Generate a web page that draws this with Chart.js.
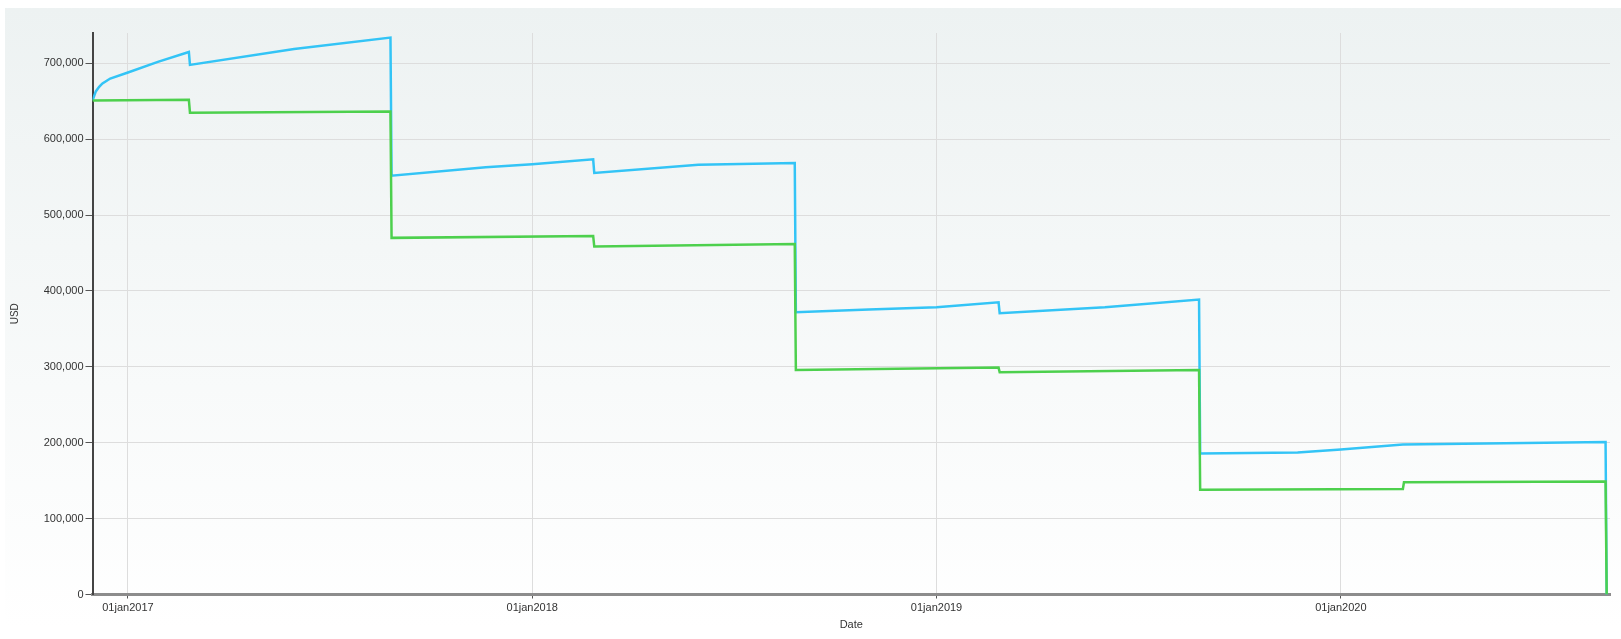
<!DOCTYPE html>
<html>
<head>
<meta charset="utf-8">
<script src="https://cdn.jsdelivr.net/npm/chart.js@4/dist/chart.umd.min.js"></script>
<style>
  body { margin: 0; background: #fff; }
  canvas { display: block; }
</style>
</head>
<body>
<canvas id="usdChart" width="1621" height="639"></canvas>
<script>
// Serie azul
const blueDates = ['2016-11-30', '2016-12-03', '2016-12-06', '2016-12-09', '2016-12-16', '2017-01-01', '2017-01-28',
    '2017-02-25', '2017-02-26', '2017-05-31', '2017-08-26', '2017-08-27', '2017-11-20', '2018-01-01', '2018-02-25',
    '2018-02-26', '2018-05-31', '2018-08-26', '2018-08-27', '2018-11-01', '2019-01-01', '2019-02-26', '2019-02-27',
    '2019-06-02', '2019-08-26', '2019-08-27', '2019-11-23', '2020-01-01', '2020-02-26', '2020-08-27', '2020-08-28'];
const blueValues = [651000, 663000, 669000, 673500, 680000, 688000, 702000,
    715000, 698000, 719000, 734000, 552000, 563000, 567000, 573500,
    555500, 566500, 568700, 372000, 375500, 378700, 385000, 370800,
    378700, 388800, 185800, 187000, 191000, 197600, 201000, 0];

// Serie verde
const greenDates = ['2016-11-30', '2017-02-25', '2017-02-26', '2017-08-26', '2017-08-27', '2018-02-25', '2018-02-26',
    '2018-08-26', '2018-08-27', '2019-02-26', '2019-02-27', '2019-08-26', '2019-08-27', '2020-02-26', '2020-02-27',
    '2020-08-27', '2020-08-28'];
const greenValues = [651000, 652000, 635000, 636500, 470000, 472500, 458500,
    462000, 296000, 299000, 293000, 296000, 138000, 139000, 148000,
    148800, 0];

// Marcas de los ejes
const yearTicks = [2017, 2018, 2019, 2020];
const yTicks = [0, 100000, 200000, 300000, 400000, 500000, 600000, 700000];
const xRange = ['2016-11-30', '2020-08-31'];
const yMax = 740000;

function toPoints(dates, values) {
    return dates.map(function(d, i) {
        return { x: Date.parse(d), y: values[i] };
    });
}

// Fondo con degradado del panel
const panelBackground = {
    id: 'panelBackground',
    beforeDraw: function(chart) {
        const ctx = chart.ctx;
        ctx.save();
        ctx.fillStyle = '#ffffff';
        ctx.fillRect(0, 0, chart.width, chart.height);
        const grad = ctx.createLinearGradient(0, 8, 0, 628);
        grad.addColorStop(0, '#edf2f2');
        grad.addColorStop(1, '#ffffff');
        ctx.fillStyle = grad;
        ctx.fillRect(5, 8, chart.width - 5, 620);
        ctx.restore();
    }
};

const ctx = document.getElementById('usdChart').getContext('2d');
const usdChart = new Chart(ctx, {
    type: 'line',
    data: {
        datasets: [{
            label: 'Green',
            data: toPoints(greenDates, greenValues),
            borderColor: '#4dd04d',
            borderWidth: 2.5,
            pointRadius: 0,
            tension: 0,
            fill: false
        }, {
            label: 'Blue',
            data: toPoints(blueDates, blueValues),
            borderColor: '#33c4f6',
            borderWidth: 2.5,
            pointRadius: 0,
            tension: 0,
            fill: false
        }]
    },
    options: {
        responsive: false,
        animation: false,
        devicePixelRatio: 1,
        layout: {
            padding: { left: 0, right: 11, top: 33, bottom: 0 }
        },
        plugins: {
            legend: { display: false },
            tooltip: { enabled: false }
        },
        scales: {
            x: {
                type: 'linear',
                min: Date.parse(xRange[0]),
                max: Date.parse(xRange[1]),
                afterBuildTicks: function(scale) {
                    scale.ticks = yearTicks.map(function(y) {
                        return { value: Date.UTC(y, 0, 1) };
                    });
                },
                afterFit: function(scale) {
                    scale.height = 44.5;
                },
                ticks: {
                    autoSkip: false,
                    maxRotation: 0,
                    padding: 3,
                    color: '#333',
                    font: { family: 'Liberation Sans', size: 11 },
                    callback: function(value) {
                        return '01jan' + new Date(value).getUTCFullYear();
                    }
                },
                grid: {
                    color: '#dddddd',
                    lineWidth: 1,
                    tickLength: 4,
                    tickColor: '#555'
                },
                border: { color: '#8c8c8c', width: 3 },
                title: {
                    display: true,
                    text: 'Date',
                    color: '#333',
                    font: { family: 'Liberation Sans', size: 11 },
                    padding: { top: 0, bottom: 7 }
                }
            },
            y: {
                min: 0,
                max: yMax,
                afterBuildTicks: function(scale) {
                    scale.ticks = yTicks.map(function(v) {
                        return { value: v };
                    });
                },
                afterFit: function(scale) {
                    scale.width = 92.5;
                },
                ticks: {
                    padding: 2,
                    color: '#333',
                    font: { family: 'Liberation Sans', size: 11 },
                    callback: function(value) {
                        return value.toLocaleString('en-US');
                    }
                },
                grid: {
                    color: '#dddddd',
                    lineWidth: 1,
                    tickLength: 7,
                    tickColor: '#555'
                },
                border: { color: '#444', width: 2 },
                title: {
                    display: true,
                    text: 'USD',
                    color: '#333',
                    font: { family: 'Liberation Sans', size: 10 },
                    padding: { top: 9, bottom: 0 }
                }
            }
        }
    },
    plugins: [panelBackground]
});
</script>
</body>
</html>
